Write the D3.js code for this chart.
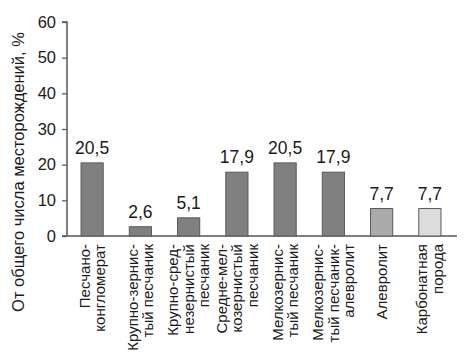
<!DOCTYPE html>
<html>
<head>
<meta charset="utf-8">
<script src="https://cdn.jsdelivr.net/npm/d3@7"></script>
<style>
  body { margin: 0; background: #fff; }
  text { font-family: "Liberation Sans", Arial, sans-serif; fill: #1a1a1a; }
</style>
</head>
<body>
<div id="chart"></div>
<script>
var categories = [
  ["Песчано-", "конгломерат"],
  ["Крупно-зернис-", "тый песчаник"],
  ["Крупно-сред-", "незернистый", "песчаник"],
  ["Средне-мел-", "козернистый", "песчаник"],
  ["Мелкозернис-", "тый песчаник"],
  ["Мелкозернис-", "тый песчаник-", "алевролит"],
  ["Алевролит"],
  ["Карбонатная", "порода"]
];
var values = [20.5, 2.6, 5.1, 17.9, 20.5, 17.9, 7.7, 7.7];
var valueLabels = ["20,5", "2,6", "5,1", "17,9", "20,5", "17,9", "7,7", "7,7"];
var fills = ["#808080", "#808080", "#808080", "#808080", "#808080", "#808080", "#ababab", "#dcdcdc"];
var yTicks = [0, 10, 20, 30, 40, 50, 60];

var width = 469, height = 362;
var x0 = 67, yBase = 236, yTop = 22;

var svg = d3.select("#chart").append("svg")
    .attr("width", width)
    .attr("height", height);

var x = d3.scaleBand()
    .domain(d3.range(categories.length))
    .range([68, 454])
    .paddingInner(0.54)
    .paddingOuter(0.27);

var y = d3.scaleLinear()
    .domain([0, 60])
    .range([yBase, yTop]);

// y axis
var yAxis = svg.append("g")
    .attr("transform", "translate(" + x0 + ",0)")
    .call(d3.axisLeft(y).tickValues(yTicks).tickSize(5).tickPadding(6));
yAxis.select(".domain").attr("stroke", "#555").attr("stroke-width", 1.5).attr("d", "M-5," + yTop + "H0V" + yBase);
yAxis.selectAll(".tick line").attr("stroke", "#555").attr("stroke-width", 1.2);
yAxis.selectAll(".tick text")
    .style("font-family", "'Liberation Sans', Arial, sans-serif")
    .style("font-size", "16.5px")
    .attr("fill", "#1a1a1a");

// baseline
svg.append("line")
    .attr("x1", x0 - 5).attr("x2", 457)
    .attr("y1", y(0)).attr("y2", y(0))
    .attr("stroke", "#555").attr("stroke-width", 1.5);

// bars
svg.selectAll(".bar")
  .data(values)
  .enter().append("rect")
    .attr("class", "bar")
    .attr("x", function(d, i) { return x(i); })
    .attr("y", function(d) { return y(d); })
    .attr("width", x.bandwidth())
    .attr("height", function(d) { return y(0) - y(d); })
    .attr("fill", function(d, i) { return fills[i]; })
    .attr("stroke", "#5a5a5a")
    .attr("stroke-width", 1);

// value labels
svg.selectAll(".val")
  .data(values)
  .enter().append("text")
    .attr("class", "val")
    .attr("x", function(d, i) { return x(i) + x.bandwidth() / 2; })
    .attr("y", function(d) { return y(d) - 9; })
    .attr("text-anchor", "middle")
    .style("font-size", "17.5px")
    .text(function(d, i) { return valueLabels[i]; });

// category labels (rotated)
var lineH = 15.5;
var cat = svg.selectAll(".cat")
  .data(categories)
  .enter().append("text")
    .attr("class", "cat")
    .attr("text-anchor", "end")
    .style("font-size", "15px")
    .attr("transform", function(d, i) {
      var cx = x(i) + x.bandwidth() / 2;
      return "translate(" + cx + ",244) rotate(-90)";
    });
cat.each(function(d) {
  var t = d3.select(this);
  var n = d.length;
  d.forEach(function(line, k) {
    t.append("tspan")
      .attr("x", 0)
      .attr("y", (k - (n - 1) / 2) * lineH)
      .attr("dy", "0.35em")
      .text(line);
  });
});

// y axis title
svg.append("text")
    .attr("transform", "translate(18,172) rotate(-90)")
    .attr("text-anchor", "middle")
    .attr("dy", "0.35em")
    .style("font-size", "16.5px")
    .text("От общего числа месторождений, %");
</script>
</body>
</html>
